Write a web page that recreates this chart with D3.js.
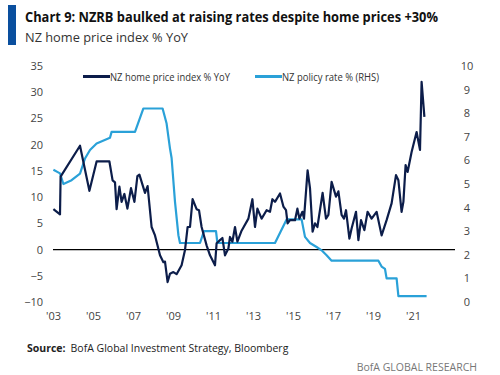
<!DOCTYPE html>
<html>
<head>
<meta charset="utf-8">
<script src="https://cdn.jsdelivr.net/npm/d3@7"></script>
<style>
  body { margin: 0; background: #fff; }
  text { font-family: "Open Sans", Roboto, sans-serif; }
</style>
</head>
<body>
<div id="chart"></div>
<script>
// NZ home price index % YoY (decimal year)
const homeDates = [2003.02, 2003.35, 2003.38, 2004.35, 2004.82, 2005.18, 2005.82, 2005.98, 2006.1, 2006.18,
  2006.32, 2006.43, 2006.57, 2006.72, 2006.9, 2007.07, 2007.22, 2007.32, 2007.6, 2007.73,
  2007.93, 2008.1, 2008.35, 2008.52, 2008.6, 2008.73, 2008.85, 2009.02, 2009.18, 2009.43,
  2009.6, 2009.73, 2009.85, 2009.98, 2010.18, 2010.3, 2010.43, 2010.68, 2010.85, 2011.1,
  2011.18, 2011.35, 2011.47, 2011.6, 2011.77, 2011.85, 2011.97, 2012.1, 2012.22, 2012.43,
  2012.77, 2012.97, 2013.1, 2013.22, 2013.43, 2013.68, 2013.85, 2013.97, 2014.1, 2014.35,
  2014.52, 2014.65, 2014.73, 2014.85, 2015.1, 2015.22, 2015.32, 2015.47, 2015.55, 2015.73,
  2015.85, 2015.98, 2016.1, 2016.22, 2016.48, 2016.65, 2016.77, 2016.93, 2017.15, 2017.27,
  2017.43, 2017.55, 2017.65, 2017.82, 2017.93, 2018.15, 2018.27, 2018.4, 2018.57, 2018.73,
  2018.93, 2019.18, 2019.43, 2019.68, 2019.93, 2020.15, 2020.27, 2020.43, 2020.52, 2020.63,
  2020.73, 2020.93, 2021.18, 2021.35, 2021.43, 2021.57];
const homeValues = [7.7, 6.7, 13.9, 19.8, 11.2, 16.8, 16.8, 13.2, 12.8, 7.7,
  12.0, 9.1, 10.6, 7.8, 11.7, 9.1, 14.0, 14.3, 10.8, 12.1,
  4.3, 2.7, -1.1, -2.4, -2.3, -6.2, -4.6, -4.3, -4.7, -3.0,
  -0.1, 4.3, 4.3, 9.6, 7.7, 7.5, 4.3, 0.8, -1.1, -3.0,
  1.2, 1.8, 2.2, -1.1, 0.2, 2.4, 1.5, 4.3, 1.5, 3.6,
  5.9, 9.6, 4.3, 7.8, 5.9, 7.5, 7.2, 9.6, 9.1, 10.7,
  8.2, 7.5, 5.0, 5.6, 5.6, 7.8, 5.9, 7.2, 5.9, 15.1,
  11.7, 3.4, 5.0, 4.3, 10.8, 5.9, 6.6, 12.9, 10.1, 11.1,
  6.6, 5.9, 7.5, 2.1, 4.0, 7.2, 1.8, 5.6, 3.7, 7.2,
  5.9, 7.2, 2.7, 5.6, 8.8, 14.2, 13.2, 7.2, 9.1, 16.1,
  14.8, 18.6, 22.4, 19.0, 32.0, 25.3];

// NZ policy rate % (RHS)
const rateDates = [2003.02, 2003.35, 2003.52, 2003.93, 2004.35, 2004.6, 2004.85, 2005.18, 2005.85, 2005.93,
  2007.1, 2007.52, 2008.48, 2008.68, 2008.85, 2008.93, 2009.1, 2009.27, 2009.35, 2010.35,
  2010.55, 2011.15, 2011.22, 2014.1, 2014.68, 2015.43, 2015.6, 2015.85, 2016.18, 2016.43,
  2016.68, 2016.93, 2019.27, 2019.43, 2019.6, 2019.68, 2020.18, 2020.27, 2021.68];
const rateValues = [5.6, 5.45, 5.0, 5.16, 5.44, 6.08, 6.44, 6.72, 6.96, 7.21,
  7.21, 8.2, 8.2, 7.56, 6.5, 6.1, 4.24, 2.83, 2.5, 2.5,
  3.0, 3.0, 2.5, 2.5, 3.5, 3.5, 2.76, 2.5, 2.33, 2.19,
  1.98, 1.75, 1.75, 1.5, 1.4, 1.0, 1.0, 0.25, 0.25];

const xTicks = [2003, 2005, 2007, 2009, 2011, 2013, 2015, 2017, 2019, 2021];
const leftTicks = [-10, -5, 0, 5, 10, 15, 20, 25, 30, 35];
const rightTicks = [0, 1, 2, 3, 4, 5, 6, 7, 8, 9, 10];

const W = 500, H = 375;
const plot = { left: 53, right: 455, top: 66, bottom: 302 };

const svg = d3.select("#chart").append("svg")
    .attr("width", W)
    .attr("height", H);

const x = d3.scaleLinear().domain([2003, 2023.1]).range([plot.left, plot.right]);
const yL = d3.scaleLinear().domain([-10, 35]).range([plot.bottom, plot.top]);
const yR = d3.scaleLinear().domain([0, 10]).range([plot.bottom, plot.top]);

// title block
svg.append("rect")
    .attr("x", 8).attr("y", 5)
    .attr("width", 8).attr("height", 40)
    .attr("fill", "#0a4f9e");

svg.append("text")
    .attr("x", 25).attr("y", 22)
    .style("font-size", "14px")
    .style("font-weight", "bold")
    .attr("textLength", 413)
    .attr("lengthAdjust", "spacingAndGlyphs")
    .attr("fill", "#111")
    .text("Chart 9: NZRB baulked at raising rates despite home prices +30%");

svg.append("text")
    .attr("x", 25).attr("y", 42)
    .style("font-size", "13.5px")
    .attr("textLength", 163)
    .attr("lengthAdjust", "spacingAndGlyphs")
    .attr("fill", "#333")
    .text("NZ home price index % YoY");

// axes (labels only)
const tickFont = "11px";
svg.append("g")
    .attr("transform", `translate(${plot.left - 10},0)`)
    .call(d3.axisLeft(yL).tickValues(leftTicks).tickSize(0).tickPadding(0))
    .call(g => g.select(".domain").remove())
    .selectAll("text")
    .style("font-size", tickFont)
    .style("font-family", "'Open Sans', sans-serif")
    .attr("fill", "#444");

svg.append("g")
    .attr("transform", `translate(${plot.right + 6},0)`)
    .call(d3.axisRight(yR).tickValues(rightTicks).tickSize(0).tickPadding(0))
    .call(g => g.select(".domain").remove())
    .selectAll("text")
    .attr("x", 6)
    .style("text-anchor", "middle")
    .style("font-size", tickFont)
    .style("font-family", "'Open Sans', sans-serif")
    .attr("fill", "#444");

svg.append("g")
    .attr("transform", `translate(0,${plot.bottom + 6})`)
    .call(d3.axisBottom(x).tickValues(xTicks).tickSize(0).tickPadding(4)
        .tickFormat(d => "'" + String(d).slice(2)))
    .call(g => g.select(".domain").remove())
    .selectAll("text")
    .style("font-size", tickFont)
    .style("font-family", "'Open Sans', sans-serif")
    .attr("fill", "#444");

// zero line
svg.append("line")
    .attr("x1", plot.left).attr("x2", plot.right)
    .attr("y1", yL(0)).attr("y2", yL(0))
    .attr("stroke", "#000")
    .attr("stroke-width", 1.2);

const homeData = homeDates.map((d, i) => ({ t: d, v: homeValues[i] }));
const rateData = rateDates.map((d, i) => ({ t: d, v: rateValues[i] }));

svg.append("path")
    .datum(rateData)
    .attr("fill", "none")
    .attr("stroke", "#2aa1d8")
    .attr("stroke-width", 2.2)
    .attr("stroke-linejoin", "round")
    .attr("d", d3.line().x(d => x(d.t)).y(d => yR(d.v)));

svg.append("path")
    .datum(homeData)
    .attr("fill", "none")
    .attr("stroke", "#0c1d4a")
    .attr("stroke-width", 2.2)
    .attr("stroke-linejoin", "round")
    .attr("d", d3.line().x(d => x(d.t)).y(d => yL(d.v)));

// legend
const legend = [
    { label: "NZ home price index % YoY", color: "#0c1d4a", x: 83, len: 120 },
    { label: "NZ policy rate % (RHS)", color: "#2aa1d8", x: 255, len: 97 }
];
legend.forEach(l => {
    svg.append("line")
        .attr("x1", l.x).attr("x2", l.x + 27)
        .attr("y1", 76.5).attr("y2", 76.5)
        .attr("stroke", l.color)
        .attr("stroke-width", 3);
    svg.append("text")
        .attr("x", l.x + 27).attr("y", 80.5)
        .style("font-size", "11px")
        .attr("textLength", l.len)
        .attr("lengthAdjust", "spacingAndGlyphs")
        .attr("fill", "#333")
        .text(l.label);
});

// footer
const src = svg.append("text")
    .attr("x", 27).attr("y", 352)
    .style("font-size", "10.5px")
    .attr("fill", "#222");
src.append("tspan").style("font-weight", "bold").text("Source:");
src.append("tspan").attr("dx", 5).text("BofA Global Investment Strategy, Bloomberg");

svg.append("text")
    .attr("x", 477).attr("y", 371)
    .attr("text-anchor", "end")
    .style("font-size", "10.5px")
    .attr("fill", "#777")
    .text("BofA GLOBAL RESEARCH");
</script>
</body>
</html>
